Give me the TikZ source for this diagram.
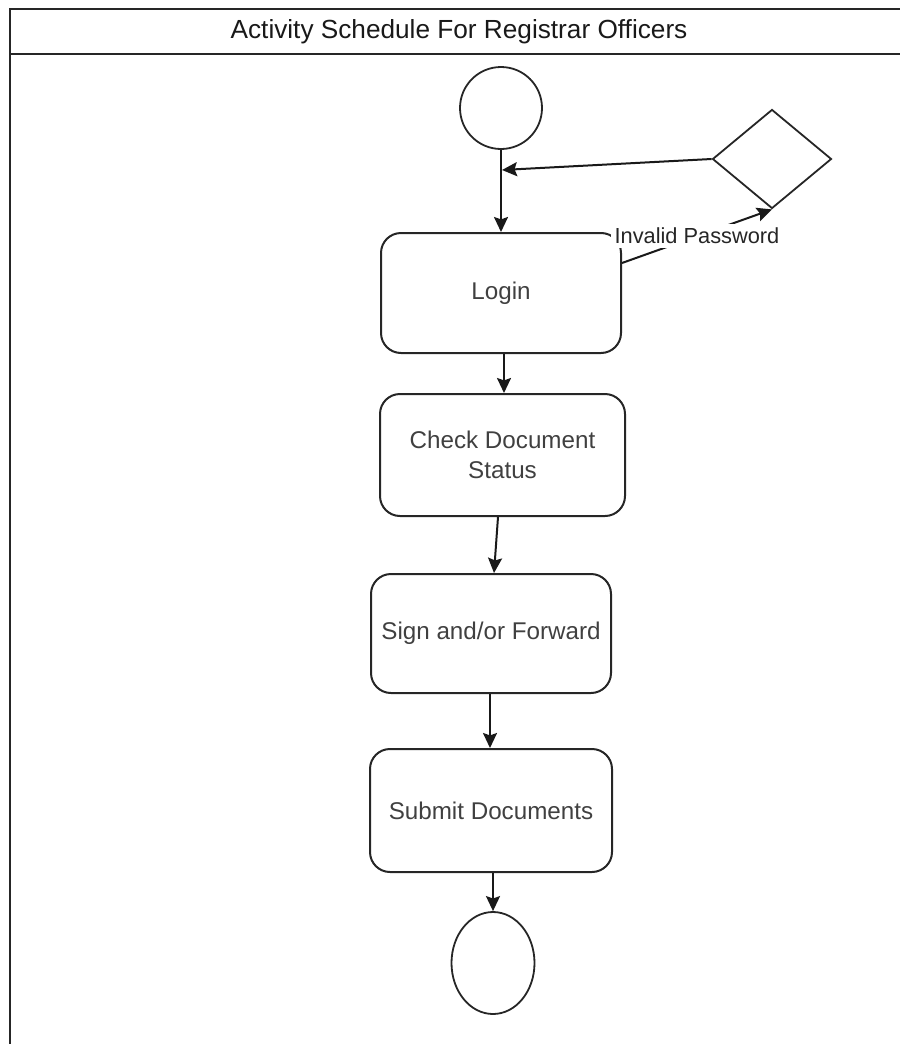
\documentclass[tikz,border=0pt]{standalone}
\usepackage{fontspec}
\setmainfont{Liberation Sans}
\usetikzlibrary{shapes.geometric,arrows.meta,calc}

\begin{document}
\begin{tikzpicture}[x=0.5pt,y=-0.5pt,
  frame/.style={draw=black!85, line width=1pt},
  act/.style={draw=black!85, line width=1pt, rounded corners=10pt,
    align=center, text=black!75, inner sep=0pt,
    font=\fontsize{12.1}{15}\selectfont},
  term/.style={draw=black!85, line width=0.9pt, inner sep=0pt},
  flow/.style={draw=black!90, line width=1pt,
    -{Stealth[length=7.5pt,width=7pt,inset=1.2pt]}},
  guard/.style={fill=white, inner sep=2pt, text=black!85,
    font=\fontsize{10.9}{13}\selectfont}]

  \useasboundingbox (0,0) rectangle (900,1044);

  % swimlane frame with its header
  \draw[frame] (10,1044) -- (10,9) -- (900,9);
  \draw[frame] (10,54) -- (900,54);
  \node[text=black!90, font=\fontsize{13.1}{16}\selectfont] (title) at (459,31.5)
    {Activity Schedule For Registrar Officers};

  % start, decision and end
  \node[term, circle, minimum size=41pt] (start) at (501,108) {};
  \node[term, diamond, minimum width=59.5pt, minimum height=49.5pt] (dec) at (772,159) {};
  \node[term, ellipse, minimum width=41.5pt, minimum height=51pt] (stop) at (493,963) {};

  % activities
  \node[act, minimum width=120pt, minimum height=60pt] (login) at (501,293) {Login};
  \node[act, minimum width=122.5pt, minimum height=61pt] (check) at (502.5,455)
    {Check Document\\Status};
  \node[act, minimum width=120pt, minimum height=59.5pt] (sign) at (491,633.5)
    {Sign and/or Forward};
  \node[act, minimum width=121pt, minimum height=61.5pt] (submit) at (491,810.5)
    {Submit Documents};

  \coordinate (join) at (502,170);

  % control flow
  \draw[flow] (start) -- (login);
  \draw[flow] (dec.west) -- (join);
  \draw[flow] ([yshift=15pt]login.east) -- (dec.south)
    node[guard, midway] {Invalid Password};
  \draw[flow] ([xshift=1.5pt]login.south) -- ([xshift=0.75pt]check.north);
  \draw[flow] ([xshift=-2.25pt]check.south) -- ([xshift=1.5pt]sign.north);
  \draw[flow] ([xshift=-0.5pt]sign.south) -- ([xshift=-0.5pt]submit.north);
  \draw[flow] ([xshift=1pt]submit.south) -- (stop);
\end{tikzpicture}
\end{document}
